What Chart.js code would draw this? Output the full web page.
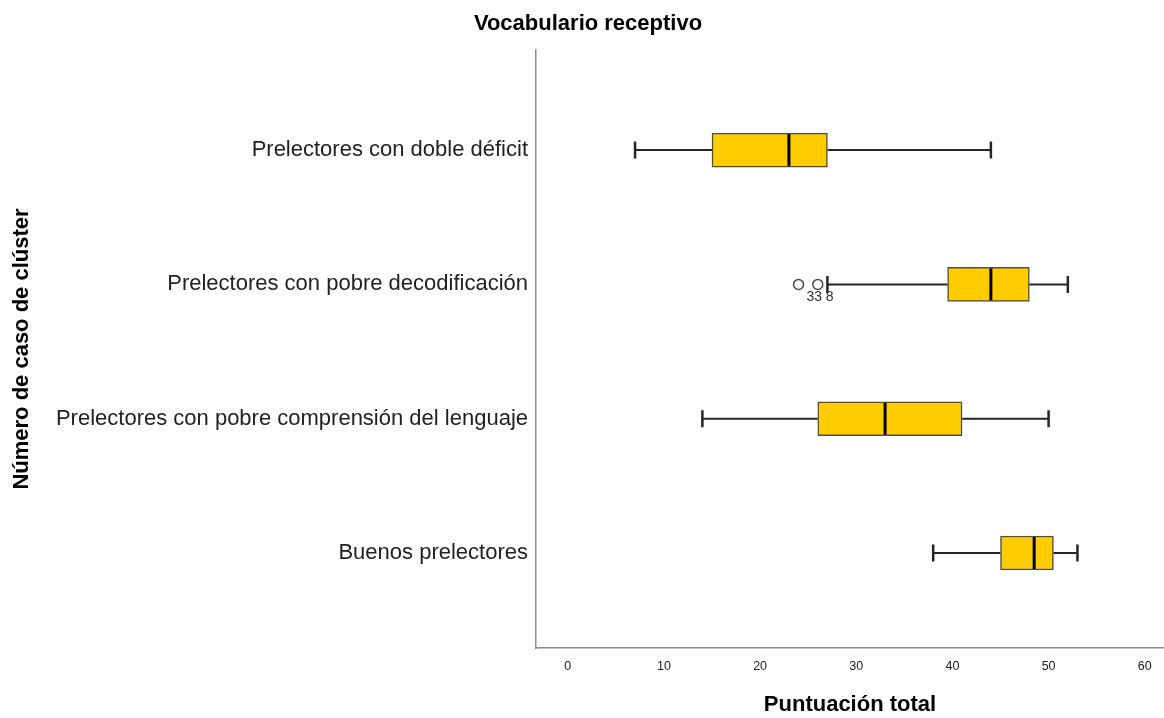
<!DOCTYPE html>
<html>
<head>
<meta charset="utf-8">
<script src="https://cdn.jsdelivr.net/npm/chart.js@4"></script>
<style>
  html, body { margin: 0; padding: 0; background: #fff; }
  #wrap { width: 1164px; height: 718px; }
</style>
</head>
<body>
<div id="wrap"><canvas id="boxChart" width="1164" height="718"></canvas></div>
<script>
// Boxplot data (Puntuación total)
const categories = [
    'Buenos prelectores',
    'Prelectores con pobre comprensión del lenguaje',
    'Prelectores con pobre decodificación',
    'Prelectores con doble déficit'
];
const whiskerLow  = [38, 14, 27, 7];
const q1Values    = [45, 26, 39.5, 15];
const medians     = [48.5, 33, 44, 23];
const q3Values    = [50.5, 41, 48, 27];
const whiskerHigh = [53, 50, 52, 44];

// outliers: category index, value, case label
const outlierCat    = [2, 2];
const outlierValues = [24, 26];
const outlierLabels = ['33', '8'];

const xTicks = [0, 10, 20, 30, 40, 50, 60];

const FONT = "'Liberation Sans', Arial, sans-serif";
const BOX_FILL = '#ffcc00';
const BOX_LINE = '#4d4d4d';

// draws whiskers, caps, medians and outlier case labels using the chart scales
const boxPlugin = {
    id: 'boxWhiskers',
    beforeDatasetsDraw(chart) {
        const xs = chart.scales.x, ys = chart.scales.y, ctx = chart.ctx;
        ctx.save();
        ctx.strokeStyle = '#262626';
        categories.forEach((c, i) => {
            const y = ys.getPixelForValue(i);
            const lo = xs.getPixelForValue(whiskerLow[i]);
            const hi = xs.getPixelForValue(whiskerHigh[i]);
            ctx.lineWidth = 2;
            ctx.beginPath();
            ctx.moveTo(lo, y);
            ctx.lineTo(xs.getPixelForValue(q1Values[i]), y);
            ctx.moveTo(xs.getPixelForValue(q3Values[i]), y);
            ctx.lineTo(hi, y);
            ctx.stroke();
            ctx.lineWidth = 2.5;
            ctx.beginPath();
            ctx.moveTo(lo, y - 8.5);
            ctx.lineTo(lo, y + 8.5);
            ctx.moveTo(hi, y - 8.5);
            ctx.lineTo(hi, y + 8.5);
            ctx.stroke();
        });
        ctx.restore();
    },
    afterDatasetsDraw(chart) {
        const xs = chart.scales.x, ys = chart.scales.y, ctx = chart.ctx;
        ctx.save();
        ctx.strokeStyle = '#000';
        ctx.lineWidth = 3;
        categories.forEach((c, i) => {
            const y = ys.getPixelForValue(i);
            const m = xs.getPixelForValue(medians[i]);
            ctx.beginPath();
            ctx.moveTo(m, y - 16);
            ctx.lineTo(m, y + 16);
            ctx.stroke();
        });
        ctx.fillStyle = '#333';
        ctx.font = '14px ' + FONT;
        ctx.textAlign = 'left';
        ctx.textBaseline = 'middle';
        outlierValues.forEach((v, k) => {
            const px = xs.getPixelForValue(v);
            const py = ys.getPixelForValue(outlierCat[k]);
            ctx.fillText(outlierLabels[k], px + 8, py + 13);
        });
        ctx.restore();
    }
};

const ctx = document.getElementById('boxChart');
new Chart(ctx, {
    type: 'bar',
    data: {
        datasets: [{
            type: 'bar',
            indexAxis: 'y',
            data: categories.map((c, i) => ({ x: [q1Values[i], q3Values[i]], y: i })),
            backgroundColor: BOX_FILL,
            borderColor: BOX_LINE,
            borderWidth: 1.5,
            borderSkipped: false,
            barThickness: 34
        }, {
            type: 'scatter',
            data: outlierValues.map((v, k) => ({ x: v, y: outlierCat[k] })),
            pointStyle: 'circle',
            pointRadius: 5,
            pointBorderWidth: 1.5,
            pointBorderColor: '#4d4d4d',
            pointBackgroundColor: 'rgba(255,255,255,0)'
        }]
    },
    options: {
        responsive: false,
        animation: false,
        layout: { autoPadding: false, padding: { left: 12, right: 0, top: 0, bottom: 0 } },
        plugins: {
            legend: { display: false },
            tooltip: { enabled: false },
            title: {
                display: true,
                text: 'Vocabulario receptivo',
                color: '#000',
                font: { family: FONT, size: 22, weight: 'bold' },
                padding: { top: 11, bottom: 12.6 }
            }
        },
        scales: {
            x: {
                type: 'linear',
                min: -3.3,
                max: 62,
                offset: false,
                afterBuildTicks: (scale) => { scale.ticks = xTicks.map(v => ({ value: v })); },
                afterFit: (scale) => {
                    scale.height = 70;
                    scale.paddingLeft = 0;
                    scale.paddingRight = 0;
                },
                grid: { display: false, drawTicks: false, offset: false },
                border: { display: true, color: '#8c8c8c', width: 1.5 },
                ticks: {
                    padding: 11,
                    color: '#222',
                    font: { family: FONT, size: 12.5 }
                },
                title: {
                    display: true,
                    text: 'Puntuación total',
                    color: '#000',
                    font: { family: FONT, size: 22, weight: 'bold' },
                    padding: { top: 20, bottom: 0 }
                }
            },
            y: {
                type: 'linear',
                min: -0.707,
                max: 3.745,
                offset: false,
                afterBuildTicks: (scale) => { scale.ticks = categories.map((c, i) => ({ value: i })); },
                afterFit: (scale) => { scale.width = 524; },
                grid: { display: false, drawTicks: false, offset: false },
                border: { display: true, color: '#8c8c8c', width: 1.5 },
                ticks: {
                    padding: 8,
                    color: '#222',
                    font: { family: FONT, size: 22 },
                    callback: (value) => categories[value] || ''
                },
                title: {
                    display: true,
                    text: 'Número de caso de clúster',
                    color: '#000',
                    font: { family: FONT, size: 22, weight: 'bold' },
                    padding: { top: -3, bottom: 0 }
                }
            }
        }
    },
    plugins: [boxPlugin]
});
</script>
</body>
</html>
